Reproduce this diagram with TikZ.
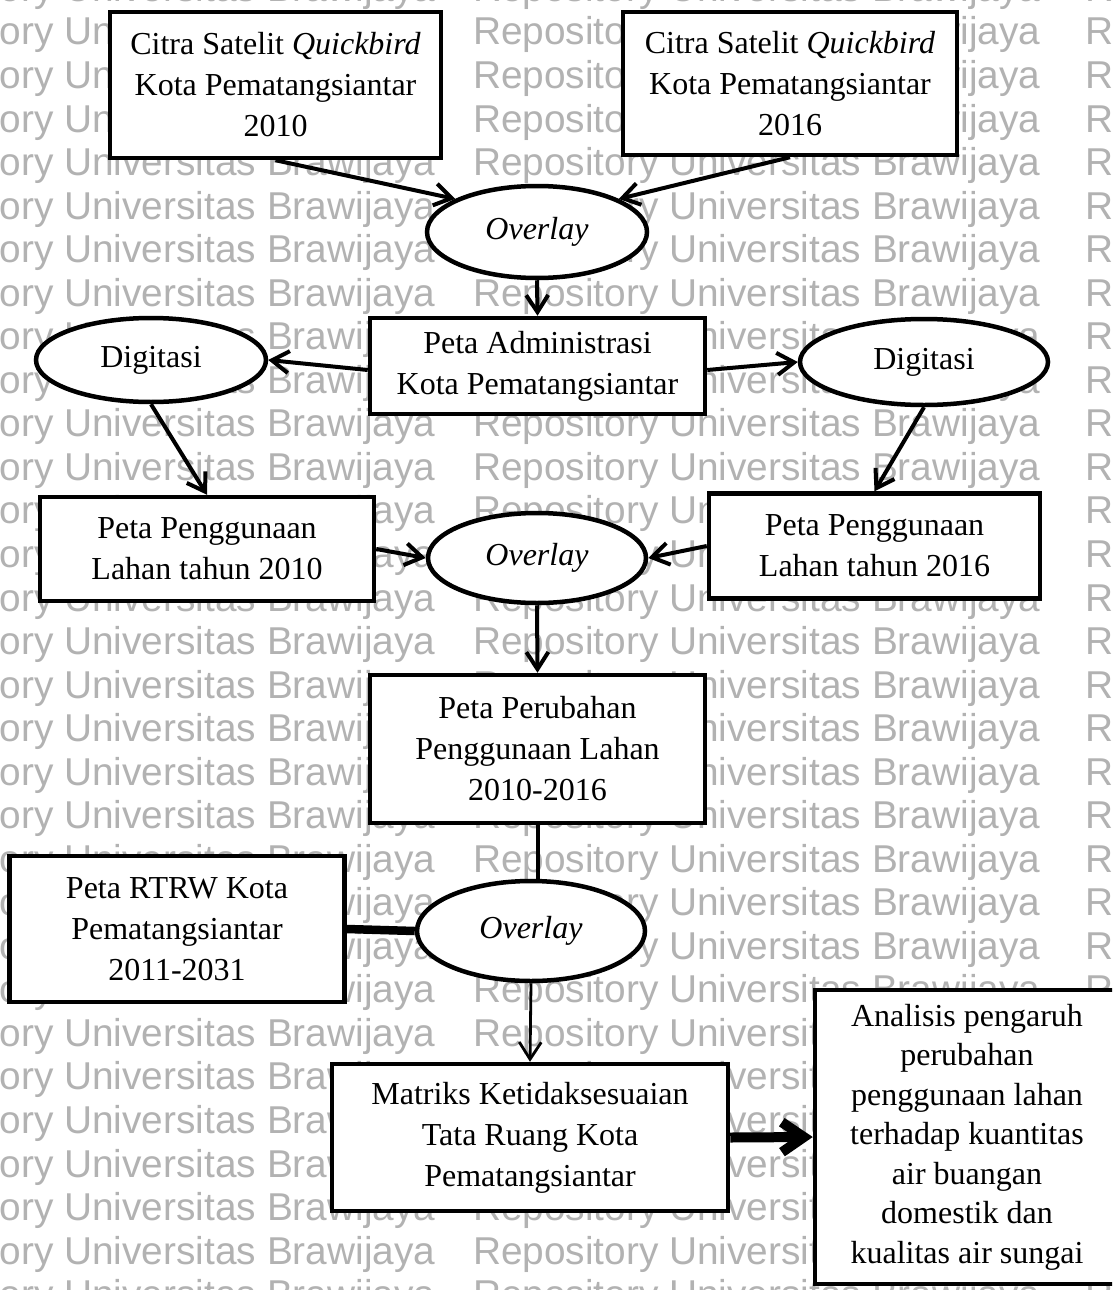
\documentclass[tikz,border=0pt]{standalone}
\usepackage{fontspec}
\setmainfont{Liberation Serif}
\newfontfamily\wmfont{Liberation Sans}
\usetikzlibrary{shapes.geometric,arrows.meta}
\begin{document}
\begin{tikzpicture}[x=1pt,y=-1pt,
  box/.style={draw,line width=4.5pt,fill=white,align=center,inner sep=0pt,
    font=\fontsize{32}{41}\selectfont},
  oval/.style={ellipse,draw,line width=4.5pt,fill=white,inner sep=0pt,
    font=\fontsize{32}{41}\selectfont},
  arr/.style={line width=4pt,-{Straight Barb[length=17pt,width=22pt]}},
  thinarr/.style={line width=2.8pt,-{Straight Barb[length=17pt,width=22pt]}},
  plain/.style={line width=4pt},
  thickline/.style={line width=8.5pt},
  bigarr/.style={line width=10pt,-{Straight Barb[length=22pt,width=30pt]}},
  wm/.style={anchor=base west,inner sep=0pt,text=black!30,
    font=\wmfont\fontsize{38.8}{40}\selectfont}]
\useasboundingbox (0,0) rectangle (1112,1290);
\clip (0,0) rectangle (1112,1290);
\fill[white] (0,0) rectangle (1112,1290);

% watermark
\foreach \k in {0,...,30} {
  \pgfmathsetmacro\yy{45+43.54*(\k-1)}
  \node[wm] (wmA\k) at (-132,\yy) {Repository Universitas Brawijaya};
  \node[wm] (wmB\k) at (473,\yy) {Repository Universitas Brawijaya};
  \node[wm] (wmC\k) at (1085,\yy) {Repository Universitas Brawijaya};
}

% nodes
\node[box,minimum width=331pt,minimum height=146pt] (c10) at (275.5,85)
  {Citra Satelit \textit{Quickbird}\\Kota Pematangsiantar\\2010};
\node[box,minimum width=334pt,minimum height=143pt] (c16) at (790,83.5)
  {Citra Satelit \textit{Quickbird}\\Kota Pematangsiantar\\2016};
\node[oval,minimum width=220pt,minimum height=92pt] (ov1) at (537,232) {\textit{Overlay}};
\node[box,minimum width=335pt,minimum height=96pt] (adm) at (537.5,366)
  {Peta Administrasi\\Kota Pematangsiantar};
\node[oval,minimum width=230pt,minimum height=84pt] (dig1) at (151,360) {Digitasi};
\node[oval,minimum width=248pt,minimum height=86pt] (dig2) at (924,362) {Digitasi};
\node[box,minimum width=334pt,minimum height=104pt] (pl10) at (207,549)
  {Peta Penggunaan\\Lahan tahun 2010};
\node[box,minimum width=331pt,minimum height=105pt] (pl16) at (874.5,546)
  {Peta Penggunaan\\Lahan tahun 2016};
\node[oval,minimum width=218pt,minimum height=90pt] (ov2) at (537,558) {\textit{Overlay}};
\node[box,minimum width=335pt,minimum height=148pt] (per) at (537.5,749)
  {Peta Perubahan\\Penggunaan Lahan\\2010-2016};
\node[box,minimum width=335pt,minimum height=146pt] (rtrw) at (177,929)
  {Peta RTRW Kota\\Pematangsiantar\\2011-2031};
\node[oval,minimum width=228pt,minimum height=100pt] (ov3) at (531,931) {\textit{Overlay}};
\node[box,minimum width=396pt,minimum height=147pt] (mat) at (530,1137.5)
  {Matriks Ketidaksesuaian\\Tata Ruang Kota\\Pematangsiantar};
\node[box,minimum width=304pt,minimum height=294pt,font=\fontsize{32}{39.5}\selectfont] (ana) at (967,1137)
  {Analisis pengaruh\\perubahan\\penggunaan lahan\\terhadap kuantitas\\air buangan\\domestik dan\\kualitas air sungai};

% connectors
\draw[arr] (c10.south) -- (ov1.158);
\draw[arr] (c16.south) -- (ov1.22);
\draw[arr] (ov1.south) -- (adm.north);
\draw[arr] ([yshift=-4pt]adm.west) -- (dig1.east);
\draw[arr] ([yshift=-4pt]adm.east) -- (dig2.west);
\draw[arr] (dig1.south) -- (pl10.north);
\draw[arr] (dig2.south) -- (pl16.north);
\draw[arr] (pl10.east) -- (ov2.west);
\draw[arr] (pl16.west) -- (ov2.east);
\draw[arr] (ov2.south) -- (per.north);
\draw[plain] (per.south) -- (per.south |- ov3.north);
\draw[thickline] (rtrw.east) -- (ov3.west);
\draw[thinarr] (ov3.south) -- (mat.north);
\draw[bigarr] (mat.east) -- (ana.west);
\end{tikzpicture}
\end{document}
